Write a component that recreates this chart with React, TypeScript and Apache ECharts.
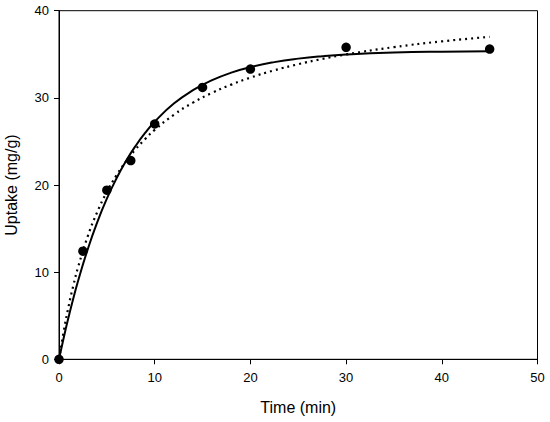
import React, { useEffect, useRef } from "react";
import * as echarts from "echarts";

// Measured data points (Time, Uptake)
const timePoints = [0, 2.5, 5, 7.5, 10, 15, 20, 30, 45];
const uptakePoints = [0, 12.4, 19.4, 22.8, 27.0, 31.2, 33.3, 35.8, 35.6];

// Curves (solid and dotted fits)
const curveTimes = [0, 0.5, 1, 1.5, 2, 3, 4, 5, 6, 7, 8, 9, 10, 12, 14, 16, 18, 20, 22.5, 25, 27.5, 30, 35, 40, 45];
const solidCurve = [0, 2.51, 4.84, 7.01, 9.02, 12.62, 15.74, 18.43, 20.74, 22.75, 24.48, 25.97, 27.26, 29.34, 30.88, 32.03, 32.89, 33.53, 34.1, 34.5, 34.78, 34.97, 35.19, 35.3, 35.35];
const dottedCurve = [0, 3.27, 6.06, 8.48, 10.59, 14.11, 16.91, 19.2, 21.1, 22.71, 24.09, 25.28, 26.32, 28.06, 29.45, 30.58, 31.52, 32.32, 33.16, 33.86, 34.46, 34.98, 35.82, 36.48, 37.0];

const xTicks = { min: 0, max: 50, interval: 10 };
const yTicks = { min: 0, max: 40, interval: 10 };

const FONT = "'Liberation Sans', Arial, sans-serif";

export default function App() {
  const ref = useRef<HTMLDivElement>(null);

  useEffect(() => {
    if (!ref.current) return;
    const chart = echarts.init(ref.current, undefined, { renderer: "svg" });
    const pair = (xs: number[], ys: number[]) => xs.map((x, i) => [x, ys[i]]);
    chart.setOption({
      animation: false,
      backgroundColor: "#fff",
      textStyle: { fontFamily: FONT },
      grid: {
        left: 59,
        right: 12.5,
        top: 10.7,
        bottom: 62.7,
        containLabel: false,
        outerBoundsMode: "none",
        show: true,
        borderColor: "#000",
        borderWidth: 1,
        backgroundColor: "transparent",
      },
      xAxis: {
        type: "value",
        min: xTicks.min,
        max: xTicks.max,
        interval: xTicks.interval,
        name: "Time (min)",
        nameLocation: "middle",
        nameGap: 40,
        nameTextStyle: { fontSize: 16, color: "#000", fontFamily: FONT },
        axisLine: { show: true, onZero: false, lineStyle: { color: "#000", width: 1 } },
        axisTick: { show: true, inside: false, length: 5, lineStyle: { color: "#000" } },
        axisLabel: { fontSize: 13, color: "#000", margin: 12, fontFamily: FONT },
        splitLine: { show: false },
      },
      yAxis: {
        type: "value",
        min: yTicks.min,
        max: yTicks.max,
        interval: yTicks.interval,
        name: "Uptake (mg/g)",
        nameLocation: "middle",
        nameGap: 40,
        nameTextStyle: { fontSize: 16, color: "#000", fontFamily: FONT },
        axisLine: { show: true, onZero: false, lineStyle: { color: "#000", width: 1 } },
        axisTick: { show: true, inside: false, length: 5, lineStyle: { color: "#000" } },
        axisLabel: { fontSize: 13, color: "#000", margin: 10, fontFamily: FONT },
        splitLine: { show: false },
      },
      series: [
        {
          type: "line",
          data: pair(curveTimes, solidCurve),
          smooth: true,
          showSymbol: false,
          symbol: "none",
          lineStyle: { color: "#000", width: 2 },
          z: 2,
        },
        {
          type: "line",
          data: pair(curveTimes, dottedCurve),
          smooth: true,
          showSymbol: false,
          symbol: "none",
          lineStyle: { color: "#000", width: 2.2, type: [2, 4] },
          z: 2,
        },
        {
          type: "scatter",
          data: pair(timePoints, uptakePoints),
          symbol: "circle",
          symbolSize: 9.5,
          itemStyle: { color: "#000", opacity: 1 },
          z: 3,
        },
      ],
    });
    return () => chart.dispose();
  }, []);

  return <div ref={ref} style={{ width: 550, height: 422, position: "absolute", left: 0, top: 0 }} />;
}
